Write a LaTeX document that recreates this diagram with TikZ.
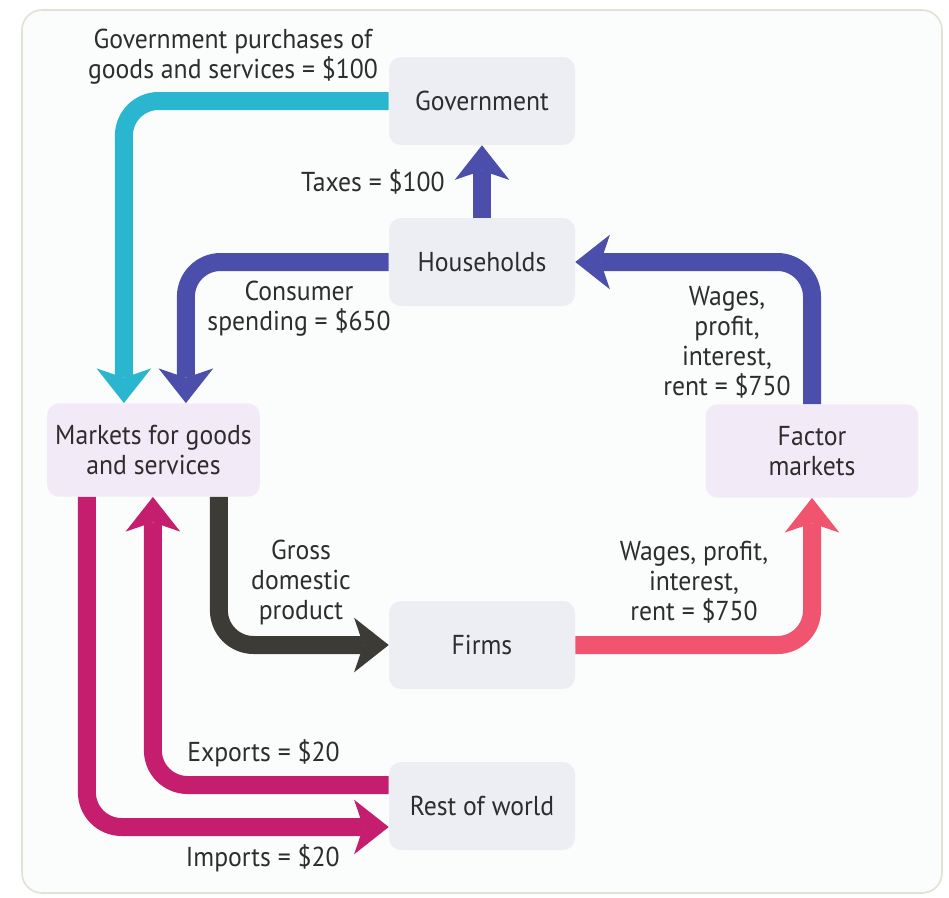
\documentclass[tikz,border=0pt]{standalone}
\usepackage{fontspec}
\setmainfont{PT Sans}[FakeStretch=0.94]
\usetikzlibrary{arrows.meta,calc}

\definecolor{txtgray}{RGB}{45,45,45}
\definecolor{panelbg}{RGB}{251,252,252}
\definecolor{panelrim}{RGB}{226,226,212}
\definecolor{boxgray}{RGB}{237,238,244}
\definecolor{boxlilac}{RGB}{243,234,248}
\definecolor{purchcyan}{RGB}{42,182,206}
\definecolor{hhindigo}{RGB}{76,78,172}
\definecolor{gdpdark}{RGB}{60,59,53}
\definecolor{wagered}{RGB}{240,84,110}
\definecolor{trademag}{RGB}{198,30,110}

\tikzset{
  sector/.style={fill=boxgray, rounded corners=9pt, minimum width=139.5pt, minimum height=66pt, inner sep=0pt, align=center, text=txtgray, font=\fontsize{20.5}{22.5}\selectfont},
  market/.style={sector, fill=boxlilac, minimum width=159.5pt, minimum height=70pt},
  flow/.style={line width=13.5pt, rounded corners=26pt, -{Stealth[length=26pt,width=41pt,inset=7pt,line width=0pt]}},
  lbl/.style={text=txtgray, align=center, inner sep=0pt, font=\fontsize{20.5}{22.5}\selectfont}
}

\begin{document}
\begin{tikzpicture}[x=0.75pt,y=0.75pt,yscale=-1,xscale=1]
\useasboundingbox (0,0) rectangle (949,897);

%Shape: Page and panel
\fill[white] (0,0) rectangle (949,897);
\draw[panelrim, fill=panelbg, line width=1.2pt, rounded corners=15pt] (22,10) rectangle (942,893);

%Shape: Sectors
\node[sector] (gov) at (482,101) {Government};
\node[sector] (hh) at (482,262) {Households};
\node[market] (mkt) at (153.5,450) {Markets for goods\\and services};
\node[market] (fac) at (812,451) {Factor\\markets};
\node[sector] (firms) at (482,645) {Firms};
\node[sector] (row) at (482,806) {Rest of world};

%Flows
\draw[flow, purchcyan] (gov.west) -| ($(mkt.north west)+(77,0)$);
\draw[flow, hhindigo] (hh.north) -- (gov.south);
\draw[flow, hhindigo] (hh.west) -| ($(mkt.north west)+(139,0)$);
\draw[flow, hhindigo] (fac.north) |- (hh.east);
\draw[flow, gdpdark] ($(mkt.south west)+(172,0)$) |- (firms.west);
\draw[flow, wagered] (firms.east) -| (fac.south);
\draw[flow, trademag] ($(row.west)+(0,-21)$) -| ($(mkt.south west)+(106,0)$);
\draw[flow, trademag] ($(mkt.south west)+(40,0)$) |- ($(row.west)+(0,21)$);

% Text Node
\node[lbl] (purchlbl) at (233,57) {Government purchases of\\goods and services = \$100};
\node[lbl, anchor=east] (taxlbl) at (445,182) {Taxes = \$100};
\node[lbl] (spendlbl) at (299,309) {Consumer\\spending = \$650};
\node[lbl] (factorlbl) at (727,342) {Wages,\\profit,\\interest,\\rent = \$750};
\node[lbl] (gdplbl) at (301,582) {Gross\\domestic\\product};
\node[lbl] (wagelbl) at (694,582) {Wages, profit,\\interest,\\rent = \$750};
\node[lbl, anchor=east] (explbl) at (340,753) {Exports = \$20};
\node[lbl, anchor=east] (implbl) at (340,858) {Imports = \$20};

\end{tikzpicture}
\end{document}
